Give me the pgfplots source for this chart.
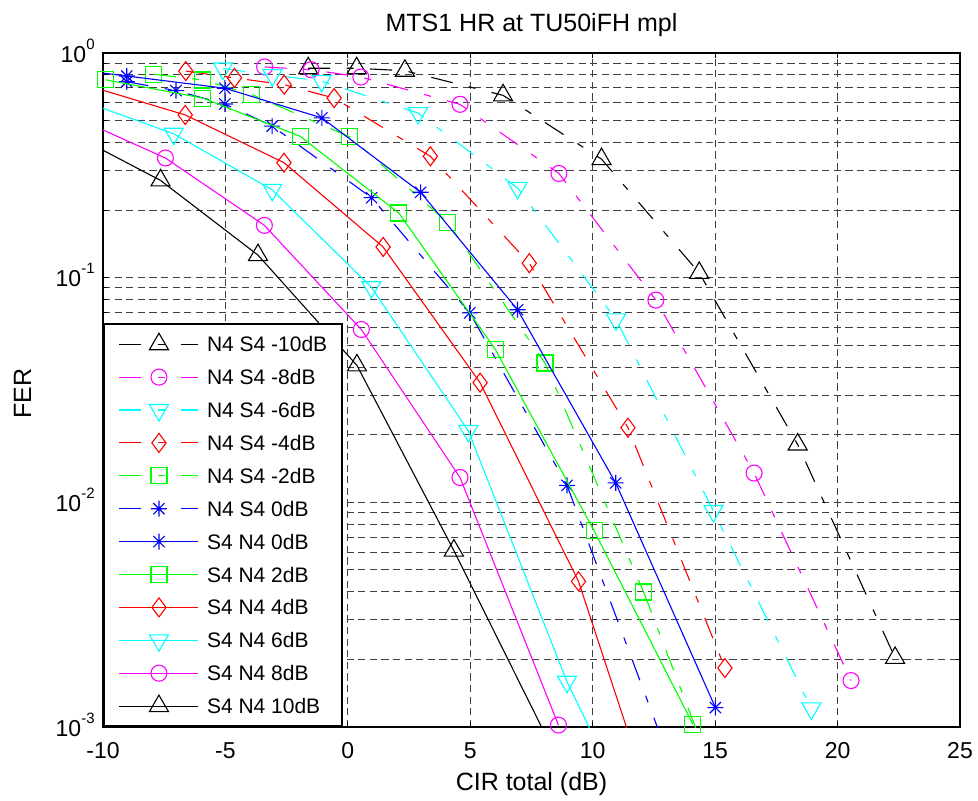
\documentclass[border=0pt]{standalone}
\usepackage{fontspec}
\setmainfont{Liberation Sans}
\usepackage{pgfplots}
\pgfplotsset{compat=1.18}

\definecolor{mcyan}{rgb}{0,1,1}
\definecolor{mmag}{rgb}{1,0,1}
\definecolor{mgreen}{rgb}{0,1,0}
\definecolor{mred}{rgb}{1,0,0}
\definecolor{mblue}{rgb}{0,0,1}

% matlab-like '*' marker
\pgfdeclareplotmark{mstar}{%
  \pgfpathmoveto{\pgfqpoint{0pt}{-\pgfplotmarksize}}\pgfpathlineto{\pgfqpoint{0pt}{\pgfplotmarksize}}%
  \pgfpathmoveto{\pgfqpoint{-\pgfplotmarksize}{0pt}}\pgfpathlineto{\pgfqpoint{\pgfplotmarksize}{0pt}}%
  \pgfpathmoveto{\pgfqpoint{-.7\pgfplotmarksize}{-.7\pgfplotmarksize}}\pgfpathlineto{\pgfqpoint{.7\pgfplotmarksize}{.7\pgfplotmarksize}}%
  \pgfpathmoveto{\pgfqpoint{-.7\pgfplotmarksize}{.7\pgfplotmarksize}}\pgfpathlineto{\pgfqpoint{.7\pgfplotmarksize}{-.7\pgfplotmarksize}}%
  \pgfusepathqstroke}
\newcommand\tsup[1]{\raisebox{6.5bp}{\fontsize{7.5bp}{8bp}\selectfont #1}}

\pgfplotsset{
  dd/.style={dash pattern=on 11bp off 8.25bp on 3.5bp off 8.25bp},
  mtri/.style={mark=triangle, mark size=5.5bp},
  mtrd/.style={mark=triangle, mark size=5.5bp, mark options={solid, rotate=180}},
  mcirc/.style={mark=o, mark size=4bp},
  msq/.style={mark=square, mark size=4bp},
  mdia/.style={mark=diamond, mark size=4.75bp},
  mst/.style={mark=mstar, mark size=4bp},
}

\begin{document}
\begin{tikzpicture}
\begin{axis}[
  name=ax,
  width=428.5bp, height=337bp, scale only axis,
  xmin=-10, xmax=25,
  ymode=log, log basis y=10, ymin=1e-3, ymax=1,
  xtick={-10,-5,...,25},
  yticklabel={10\tsup{\pgfmathprintnumber{\tick}}},
  /pgf/number format/assume math mode=true,
  tick align=inside,
  major tick length=2.6bp, minor tick length=2bp,
  tick style={black, line width=0.5bp},
  axis line style={line width=0.9bp},
  grid=both,
  major grid style={black!75, line width=0.5bp, dash pattern=on 3.6bp off 2.2bp},
  minor grid style={black!75, line width=0.5bp, dash pattern=on 3.6bp off 2.2bp},
  ticklabel style={font=\fontsize{11.5bp}{13bp}\selectfont, inner sep=0pt},
  xticklabel style={anchor=base, yshift=-15.5bp},
  yticklabel style={anchor=base east, xshift=-4bp, yshift=-4.5bp},
  title={MTS1 HR at TU50iFH mpl},
  every axis title shift=0pt,
  title style={at={(axis description cs:0.5,1.0326)}, anchor=base, inner sep=0pt,
    font=\fontsize{12.5bp}{15bp}\selectfont},
  xlabel={CIR total (dB)},
  xlabel style={at={(axis description cs:0.5,-0.0944)}, anchor=base, inner sep=0pt,
    font=\fontsize{12.5bp}{15bp}\selectfont},
  clip mode=individual,
  every axis plot/.append style={line width=0.55bp, mark options={solid}},
  legend image code/.code={%
    \draw[#1, mark=none] plot coordinates {(0bp,0bp) (39.5bp,0bp)};
    \draw[#1, only marks, overlay] plot coordinates {(19.75bp,0bp)};},
  legend cell align=left,
  legend style={at={(0,0)}, anchor=south west, draw=black, line width=0.9bp, fill=white,
    inner xsep=7.5bp, inner ysep=6.25bp, row sep=8.95bp, column sep=4bp,
    font=\fontsize{10.5bp}{12bp}\selectfont,
    nodes={inner sep=0pt, text height=7.5bp, text depth=0pt}},
]

% N4 S4 series (dash-dot)
\addplot[black, dd, mtri] coordinates {
  (-1.62,0.855) (0.36,0.855) (2.33,0.834) (6.34,0.648) (10.36,0.337) (14.35,0.105) (18.37,0.0181) (22.35,0.00203)};
\addlegendentry{N4 S4 -10dB}
\addplot[mmag, dd, mcirc] coordinates {
  (-3.40,0.867) (-1.50,0.843) (0.53,0.782) (4.58,0.591) (8.62,0.291) (12.58,0.0795) (16.59,0.0135) (20.55,0.00161)};
\addlegendentry{N4 S4 -8dB}
\addplot[mcyan, dd, mtrd] coordinates {
  (-5.10,0.853) (-3.08,0.798) (-1.07,0.750) (2.87,0.540) (6.93,0.251) (10.95,0.0652) (14.93,0.00915) (18.93,0.00121)};
\addlegendentry{N4 S4 -6dB}
\addplot[mred, dd, mdia] coordinates {
  (-6.62,0.831) (-4.63,0.775) (-2.60,0.723) (-0.56,0.630) (3.37,0.347) (7.41,0.116) (11.44,0.0215) (15.40,0.00183)};
\addlegendentry{N4 S4 -4dB}
\addplot[mgreen, dd, msq] coordinates {
  (-7.92,0.805) (-5.92,0.758) (-3.95,0.655) (0.07,0.424) (4.08,0.176) (8.05,0.0417) (12.08,0.00399)};
\addlegendentry{N4 S4 -2dB}
\addplot[mgreen, dd, no marks, forget plot] coordinates {(12.08,0.00399) (16.08,0.00029)};
\addplot[mblue, dd, mst] coordinates {
  (-9.03,0.745) (-7.02,0.680) (-5.02,0.593) (-3.09,0.473) (0.97,0.227) (4.98,0.0697) (8.95,0.0119)};
\addlegendentry{N4 S4 0dB}
\addplot[mblue, dd, no marks, forget plot] coordinates {(8.95,0.0119) (12.97,0.0008)};

% S4 N4 series (solid)
\addplot[mblue, mst] coordinates {
  (-9.03,0.790) (-5.02,0.697) (-1.06,0.514) (2.97,0.240) (6.93,0.0720) (10.94,0.0122) (15.01,0.00122)};
\addlegendentry{S4 N4 0dB}
\addplot[mblue, no marks, forget plot] coordinates {(-13.03,0.895) (-9.03,0.790)};
\addplot[mgreen, msq] coordinates {
  (-9.90,0.760) (-5.92,0.630) (-1.95,0.426) (2.08,0.194) (6.02,0.0480) (10.06,0.00746) (14.09,0.00103)};
\addlegendentry{S4 N4 2dB}
\addplot[mred, mdia] coordinates {
  (-6.64,0.530) (-2.61,0.325) (1.44,0.137) (5.40,0.0341) (9.42,0.00445)};
\addlegendentry{S4 N4 4dB}
\addplot[mred, no marks, forget plot] coordinates {(-10.65,0.717) (-6.64,0.530)};
\addplot[mred, no marks, forget plot] coordinates {(9.42,0.00445) (13.42,0.00021)};
\addplot[mcyan, mtrd] coordinates {
  (-7.11,0.437) (-3.09,0.246) (0.96,0.0907) (4.92,0.0208) (8.95,0.00159)};
\addlegendentry{S4 N4 6dB}
\addplot[mcyan, no marks, forget plot] coordinates {(-11.10,0.627) (-7.11,0.437)};
\addplot[mcyan, no marks, forget plot] coordinates {(8.95,0.00159) (12.95,0.0002)};
\addplot[mmag, mcirc] coordinates {
  (-7.45,0.341) (-3.41,0.171) (0.55,0.0588) (4.58,0.0129) (8.60,0.00102)};
\addlegendentry{S4 N4 8dB}
\addplot[mmag, no marks, forget plot] coordinates {(-11.47,0.536) (-7.45,0.341)};
\addplot[black, mtri] coordinates {
  (-7.65,0.271) (-3.67,0.126) (0.37,0.0407) (4.33,0.0061)};
\addlegendentry{S4 N4 10dB}
\addplot[black, no marks, forget plot] coordinates {(-11.67,0.46) (-7.65,0.271)};
\addplot[black, no marks, forget plot] coordinates {(4.33,0.0061) (8.33,0.00081)};

\node[rotate=90, anchor=base, inner sep=0pt, font=\fontsize{12.5bp}{15bp}\selectfont]
  at (axis description cs:-0.084,0.495) {FER};
\end{axis}
\pgfresetboundingbox
\path[use as bounding box] ([shift={(-51.5bp,-37bp)}]ax.south west) rectangle ([shift={(9bp,26.5bp)}]ax.north east);
\end{tikzpicture}
\end{document}
